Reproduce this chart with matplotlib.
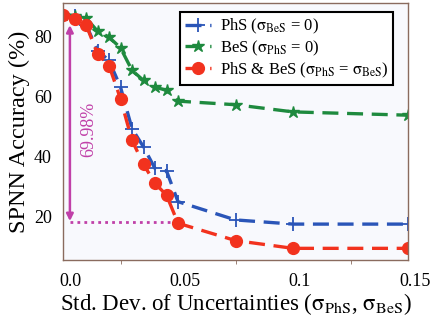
import matplotlib
matplotlib.use("Agg")
import matplotlib.pyplot as plt
import matplotlib.transforms as mtransforms

plt.rcParams['font.family'] = ['Liberation Serif', 'DejaVu Serif']
plt.rcParams['mathtext.fontset'] = 'stix'

x = [0.0, 0.005, 0.01, 0.015, 0.02, 0.025, 0.03, 0.035, 0.04, 0.045, 0.05, 0.075, 0.1, 0.15]
phs = [87.3, 86.7, 84.0, 75.3, 72.0, 63.1, 49.2, 43.1, 35.9, 35.1, 24.8, 18.7, 17.3, 17.3]
bes = [87.3, 87.0, 86.2, 81.8, 79.8, 76.2, 68.7, 65.3, 63.1, 62.0, 58.4, 57.2, 54.8, 53.7]
both = [87.3, 85.9, 84.0, 74.2, 70.3, 59.2, 45.3, 37.3, 30.9, 27.0, 17.6, 11.8, 9.2, 9.2]

xticks = [0.0, 0.05, 0.1, 0.15]
xticklabels = ['0.0', '0.05', '0.1', '0.15']
yticks = [20, 40, 60, 80]

labels = [r'PhS ($\mathrm{\sigma}_{\mathrm{BeS}}$ = 0)',
          r'BeS ($\mathrm{\sigma}_{\mathrm{PhS}}$ = 0)',
          r'PhS & BeS ($\mathrm{\sigma}_{\mathrm{PhS}}$ = $\mathrm{\sigma}_{\mathrm{BeS}}$)']

fig = plt.figure(figsize=(4.36, 3.21), dpi=100)
ax = fig.add_axes([0.1445, 0.19, 0.7913, 0.8007])
ax.set_facecolor('#f8f9fd')

dash = (4.8, 2.6)
ax.plot(x, phs, color='#2a55b8', lw=2.4, dashes=dash, marker='+', ms=9.5, mew=1.3, label=labels[0])
ax.plot(x, bes, color='#1e8a3e', lw=2.4, dashes=dash, marker='*', ms=9, label=labels[1])
ax.plot(x, both, color='#f2321e', lw=2.4, dashes=dash, marker='o', ms=8.5, label=labels[2])

mag = '#c040a8'
ax.annotate('', xy=(0.003, 83.8), xytext=(0.003, 18.3),
            arrowprops=dict(arrowstyle='<|-|>', color=mag, lw=1.8, mutation_scale=10, shrinkA=0, shrinkB=0))
ax.plot([0.003, 0.047], [18.0, 18.0], color=mag, lw=2, ls=(0, (1, 1.5)))
ax.text(0.0112, 49, '69.98%', rotation=90, color=mag, fontsize=13, ha='center', va='center')

ax.set_xlim(0, 0.15)
ax.set_ylim(5.3, 91.2)
ax.set_xticks(xticks)
ax.set_xticklabels(xticklabels)
ax.set_xticks([0.025, 0.075, 0.125], minor=True)
ax.set_yticks(yticks)
ax.tick_params(axis='x', which='major', length=0, labelsize=13, pad=9)
ax.tick_params(axis='x', which='minor', length=3, color='#8a6b5e', direction='out')
ax.tick_params(axis='y', which='major', length=0, labelsize=13, pad=8)
offset = mtransforms.ScaledTranslation(7/100, 0, fig.dpi_scale_trans)
for lab in ax.get_xticklabels():
    lab.set_transform(lab.get_transform() + offset)

for s in ax.spines.values():
    s.set_color('#8a6b5e')
    s.set_linewidth(1.0)

ax.set_xlabel(r'Std. Dev. of Uncertainties ($\mathrm{\sigma}_{\mathrm{PhS}}$, $\mathrm{\sigma}_{\mathrm{BeS}}$)', fontsize=16.5, labelpad=1)
ax.set_ylabel('SPNN Accuracy (%)', fontsize=17.5, labelpad=3)

leg = ax.legend(loc='upper right', bbox_to_anchor=(0.957, 0.965), borderaxespad=0,
                fontsize=12, fancybox=False, edgecolor='black', framealpha=1,
                labelspacing=0.15, handlelength=1.6, handletextpad=0.5, borderpad=0.3)
leg.get_frame().set_linewidth(1.5)

fig.savefig('out.png', dpi=100)
